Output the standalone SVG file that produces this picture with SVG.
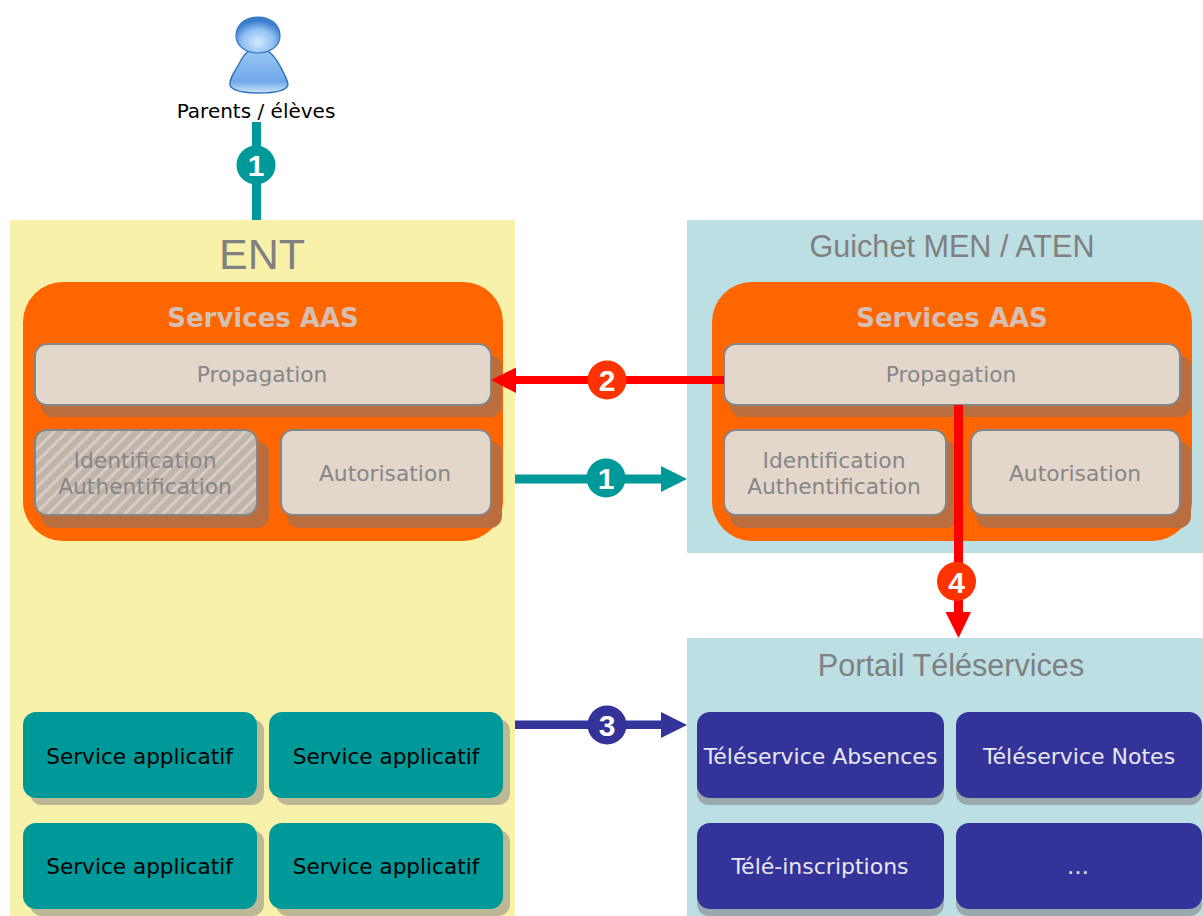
<svg xmlns="http://www.w3.org/2000/svg" width="1203" height="916" viewBox="0 0 1203 916">
<style>
.t{font-family:"DejaVu Sans",Verdana,sans-serif;text-anchor:middle}
.grey{fill:#878787;font-size:21.8px}
.h{font-family:"Liberation Sans",Arial,sans-serif;text-anchor:middle;fill:#808080;font-size:30.6px}
.aas{fill:#d6bfb0;font-size:26px;font-weight:bold}
.box{fill:#e3d6cb;stroke:#858585;stroke-width:2}
.sh{fill:#bb6e3d}
.or{fill:#ff6600}
.teal{fill:#009999}
.tsh{fill:#bcb794}
.blue{fill:#333399}
.bsh{fill:#99a9ae}
.blk{fill:#000;font-size:21.6px}
.wh{fill:#e8e8f2;font-size:22px}
.n{font-family:"Liberation Sans",Arial,sans-serif;font-weight:bold;font-size:30px;fill:#fff;text-anchor:middle}
</style>
<defs>
<pattern id="hatch" width="9" height="9" patternUnits="userSpaceOnUse" patternTransform="rotate(45)">
<rect width="9" height="9" fill="#c0b5aa"/><rect width="3" height="9" fill="#d8cdc2"/>
</pattern>
<radialGradient id="pg" cx="50%" cy="70%" r="60%"><stop offset="0" stop-color="#d4eaff"/><stop offset=".6" stop-color="#8fc0f2"/><stop offset="1" stop-color="#3a7ccb"/></radialGradient>
<linearGradient id="pb" x1="0" y1="0" x2="0" y2="1"><stop offset="0" stop-color="#9fc8f3"/><stop offset=".75" stop-color="#6fa9ea"/><stop offset="1" stop-color="#cfe6fb"/></linearGradient>
</defs>

<rect id="ent-bg" x="10" y="220" width="505" height="696" fill="#f8f1a9"/>
<rect id="guichet-bg" x="687" y="220" width="516" height="333" fill="#bbdfe2"/>
<rect id="portail-bg" x="687" y="638" width="516" height="278" fill="#bbdfe2"/>

<g id="user">
<path d="M258 48C248 48 243 56 239 64C234 72 229 80 230 85C232 91 246 93 259 93C272 93 286 91 288 85C288 80 283 72 279 64C274 56 268 48 258 48Z" fill="url(#pb)" stroke="#2f6fc0" stroke-width="1.400"/>
<path d="M236 36C236 24 246 17 258 17C270 17 280 24 280 36C280 46 270 53 258 53C246 53 236 46 236 36Z" fill="url(#pg)" stroke="#3b78c4" stroke-width="1.200"/>
<text class="t" x="256" y="118" font-size="20" fill="#000">Parents / élèves</text>
</g>

<g id="ent">
<text class="h" x="262" y="269" style="font-size:43px">ENT</text>
<rect class="or" x="23" y="282" width="480" height="259" rx="40"/>
<text class="t aas" x="263" y="327">Services AAS</text>
<rect class="sh" x="41" y="355" width="461" height="62" rx="12"/>
<rect class="box" x="35" y="344" width="456" height="61" rx="12"/>
<text class="t grey" x="262" y="382">Propagation</text>
<rect class="sh" x="41" y="441" width="228" height="87" rx="12"/>
<rect class="box" x="35" y="430" width="222" height="85" rx="12" style="fill:url(#hatch)"/>
<text class="t grey" x="145" y="468">Identification</text>
<text class="t grey" x="145" y="494">Authentification</text>
<rect class="sh" x="287" y="441" width="215" height="87" rx="12"/>
<rect class="box" x="281" y="430" width="210" height="85" rx="12"/>
<text class="t grey" x="385" y="481">Autorisation</text>
</g>

<g id="guichet">
<text class="h" x="952" y="257">Guichet MEN / ATEN</text>
<rect class="or" x="712" y="282" width="480" height="259" rx="40"/>
<text class="t aas" x="952" y="327">Services AAS</text>
<rect class="sh" x="730" y="355" width="461" height="62" rx="12"/>
<rect class="box" x="724" y="344" width="456" height="61" rx="12"/>
<text class="t grey" x="951" y="382">Propagation</text>
<rect class="sh" x="730" y="441" width="228" height="87" rx="12"/>
<rect class="box" x="724" y="430" width="222" height="85" rx="12"/>
<text class="t grey" x="834" y="468">Identification</text>
<text class="t grey" x="834" y="494">Authentification</text>
<rect class="sh" x="976" y="441" width="215" height="87" rx="12"/>
<rect class="box" x="971" y="430" width="209" height="85" rx="12"/>
<text class="t grey" x="1075" y="481">Autorisation</text>
</g>

<g id="services">
<rect class="tsh" x="30" y="719" width="234" height="86" rx="12"/><rect class="teal" x="23" y="712" width="234" height="86" rx="13"/>
<text class="t blk" x="139.500" y="764">Service applicatif</text>
<rect class="tsh" x="276" y="719" width="234" height="86" rx="12"/><rect class="teal" x="269" y="712" width="234" height="86" rx="13"/>
<text class="t blk" x="386" y="764">Service applicatif</text>
<rect class="tsh" x="30" y="830" width="234" height="86" rx="12"/><rect class="teal" x="23" y="823" width="234" height="86" rx="13"/>
<text class="t blk" x="139.500" y="874">Service applicatif</text>
<rect class="tsh" x="276" y="830" width="234" height="86" rx="12"/><rect class="teal" x="269" y="823" width="234" height="86" rx="13"/>
<text class="t blk" x="386" y="874">Service applicatif</text>
</g>

<g id="portail">
<text class="h" x="951" y="676">Portail Téléservices</text>
<rect class="bsh" x="697" y="719" width="247" height="86" rx="12"/><rect class="blue" x="697" y="712" width="247" height="86" rx="13"/>
<text class="t wh" x="820.500" y="764">Téléservice Absences</text>
<rect class="bsh" x="956" y="719" width="246" height="86" rx="12"/><rect class="blue" x="956" y="712" width="246" height="86" rx="13"/>
<text class="t wh" x="1079" y="764">Téléservice Notes</text>
<rect class="bsh" x="697" y="830" width="247" height="86" rx="12"/><rect class="blue" x="697" y="823" width="247" height="86" rx="13"/>
<text class="t wh" x="820" y="874">Télé-inscriptions</text>
<rect class="bsh" x="956" y="830" width="246" height="86" rx="12"/><rect class="blue" x="956" y="823" width="246" height="86" rx="13"/>
<text class="t wh" x="1078" y="874">…</text>
</g>

<g id="connectors">
<rect x="252" y="122" width="9" height="98" fill="#009999"/>
<circle cx="256" cy="165" r="19.500" fill="#009999"/><text class="n" x="256" y="176">1</text>

<path d="M515 474.500H661V466L687 479L661 492V483.500H515Z" fill="#009999"/>
<circle cx="606" cy="478" r="19.500" fill="#009999"/><text class="n" x="606" y="489">1</text>

<path d="M724 376H516V367.500L491 380L516 393V384H724Z" fill="#ff0000"/>
<circle cx="607" cy="380" r="19.500" fill="#ff3300"/><text class="n" x="607" y="391">2</text>

<path d="M515 720.500H661V712L687 725L661 738V729H515Z" fill="#333399"/>
<circle cx="607" cy="725" r="19.500" fill="#333399"/><text class="n" x="607" y="736">3</text>

<path d="M954 405H963V612H971L958.500 638L945.500 612H954Z" fill="#ff0000"/>
<circle cx="956.500" cy="581.500" r="19.500" fill="#ff3300"/><text class="n" x="956.500" y="592.500">4</text>
</g>
</svg>
